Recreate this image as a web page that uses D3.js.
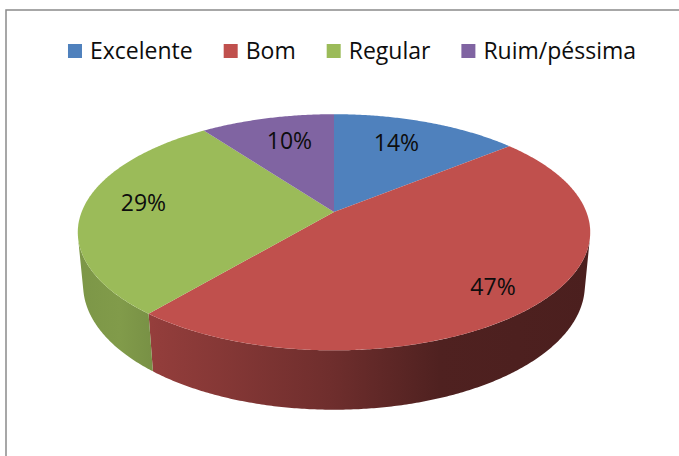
<!DOCTYPE html>
<html>
<head>
<meta charset="utf-8">
<script src="https://cdn.jsdelivr.net/npm/d3@7"></script>
<style>
  body { margin: 0; background: #fff; }
  text { font-family: "Open Sans", "Noto Sans", sans-serif; fill: #0d0d0d; }
</style>
</head>
<body>
<div class="vis-pie"></div>
<script>
// chart data
const categories = ["Excelente", "Bom", "Regular", "Ruim/péssima"];
const values = [14, 47, 29, 10];
const labels = ["14%", "47%", "29%", "10%"];
const colors = ["#4f81bd", "#c0504d", "#9bbb59", "#8064a2"];

const draw = () => {
    const width = 679, height = 456;
    let svg = d3.select(".vis-pie")
        .append("svg")
        .attr("width", width)
        .attr("height", height);

    // frame
    svg.append("rect")
        .attr("x", 6).attr("y", 10)
        .attr("width", 720).attr("height", 500)
        .attr("fill", "none")
        .attr("stroke", "#8a8a8a")
        .attr("stroke-width", 1.5);

    // 3d projection of the pie (tilted disc, perspective)
    const cx = 334, cy = 212;
    const tilt = 27 * Math.PI / 180;
    const s = Math.sin(tilt), c = Math.cos(tilt);
    const D = 5.19, f = 1310, H = 0.237;
    const project = (phi, r, y) => {
        const X = r * Math.sin(phi), Z = r * Math.cos(phi);
        const v = y * c + Z * s;
        const w = D + Z * c - y * s;
        return [cx + f * X / w, cy - f * v / w];
    };
    const arcPts = (a0, a1, r, y) => {
        const n = Math.max(2, Math.ceil((a1 - a0) / (Math.PI / 360)));
        return d3.range(n + 1).map(i => project(a0 + (a1 - a0) * i / n, r, y));
    };
    const line = d3.line();

    const arcs = d3.pie().sort(null).value(d => d)(values);

    // wall shading across x
    const shade = d3.scaleLinear()
        .domain([75, 120, 160, 330, 440, 593])
        .range([0.80, 0.83, 0.76, 0.58, 0.41, 0.39]);

    const defs = svg.append("defs");
    arcs.forEach((a, i) => {
        const base = d3.rgb(colors[i]);
        const g = defs.append("linearGradient")
            .attr("id", "wall" + i)
            .attr("gradientUnits", "userSpaceOnUse")
            .attr("x1", 75).attr("x2", 593).attr("y1", 0).attr("y2", 0);
        shade.domain().forEach(x => {
            const k = shade(x);
            g.append("stop")
                .attr("offset", (x - 75) / (593 - 75))
                .attr("stop-color", d3.rgb(base.r * k, base.g * k, base.b * k).formatHex());
        });
    });

    // visible part of the outer wall
    const phiMin = Math.acos(-1 / (D * c));
    const phiMax = 2 * Math.PI - phiMin;

    svg.append("g")
        .selectAll("path")
        .data(arcs)
        .enter()
        .each(function (a, i) {
            const a0 = Math.max(a.startAngle, phiMin);
            const a1 = Math.min(a.endAngle, phiMax);
            if (a1 <= a0) return;
            const top = arcPts(a0, a1, 1, 0);
            const bottom = arcPts(a0, a1, 1, -H).reverse();
            d3.select(this).append("path")
                .attr("d", line(top.concat(bottom)) + "Z")
                .attr("fill", "url(#wall" + i + ")");
        });

    // top faces
    svg.append("g")
        .selectAll("path")
        .data(arcs)
        .enter()
        .append("path")
        .attr("d", a => line([project(0, 0, 0)].concat(arcPts(a.startAngle, a.endAngle, 1, 0))) + "Z")
        .attr("fill", (a, i) => colors[i]);

    // label placement: bisect slices in the flat bounding ellipse of the top face
    const outline = arcPts(0, 2 * Math.PI, 1, 0);
    const ex = d3.extent(outline, p => p[0]), ey = d3.extent(outline, p => p[1]);
    const ecx = (ex[0] + ex[1]) / 2, ecy = (ey[0] + ey[1]) / 2;
    const erx = (ex[1] - ex[0]) / 2, ery = (ey[1] - ey[0]) / 2;
    const flatAngle = p => {
        let t = Math.atan2((p[0] - ecx) / erx, (ecy - p[1]) / ery);
        return t < -1e-6 ? t + 2 * Math.PI : t;
    };
    const center = project(0, 0, 0);
    const labelPos = a => {
        let t0 = a.startAngle === 0 ? 0 : flatAngle(project(a.startAngle, 1, 0));
        let t1 = flatAngle(project(a.endAngle, 1, 0));
        if (a.endAngle >= 2 * Math.PI - 1e-6) t1 = 2 * Math.PI;
        const p = project((t0 + t1) / 2, 1, 0);
        const k = 0.78;
        return [center[0] + k * (p[0] - center[0]), center[1] + k * (p[1] - center[1])];
    };

    svg.append("g")
        .selectAll("text")
        .data(arcs)
        .enter()
        .append("text")
        .attr("x", a => labelPos(a)[0])
        .attr("y", a => labelPos(a)[1] + 11)
        .attr("text-anchor", "middle")
        .attr("font-size", 23)
        .text((a, i) => labels[i]);

    // legend
    const legend = svg.append("g");
    const items = legend.selectAll("g")
        .data(categories)
        .enter()
        .append("g");
    items.append("rect")
        .attr("width", 14).attr("height", 14)
        .attr("y", 44)
        .attr("fill", (d, i) => colors[i]);
    items.append("text")
        .attr("x", 22).attr("y", 59)
        .attr("font-size", 23)
        .text(d => d);
    let xPos = 0;
    items.each(function () {
        d3.select(this).attr("transform", "translate(" + xPos + ",0)");
        xPos += 22 + this.querySelector("text").getComputedTextLength() + 31;
    });
    const total = xPos - 31;
    legend.attr("transform", "translate(" + (352 - total / 2) + ",0)");
}

draw();
</script>
</body>
</html>
